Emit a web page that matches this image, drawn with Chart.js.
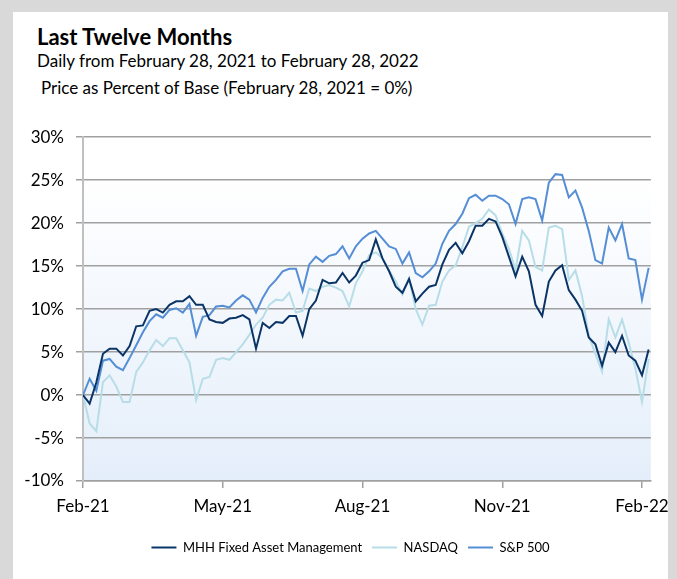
<!DOCTYPE html>
<html>
<head>
<meta charset="utf-8">
<script src="https://cdn.jsdelivr.net/npm/chart.js@4"></script>
<style>
  body { margin: 0; background: #d9d9d9; width: 677px; height: 579px; overflow: hidden; font-family: Lato, sans-serif; }
  #panel { position: absolute; left: 13px; top: 12px; width: 655px; height: 567px; background: #fff; }
  .txt { position: absolute; color: #000; white-space: nowrap; }
  #title { left: 37px; top: 24px; font-size: 22px; line-height: 26px; font-weight: bold; }
  #sub1 { left: 37px; top: 50px; font-size: 17px; line-height: 21px; }
  #sub2 { left: 41px; top: 77px; font-size: 17px; line-height: 21px; }
  #wrap { position: absolute; left: 13px; top: 115px; width: 664px; height: 464px; }
</style>
</head>
<body>
<div id="panel"></div>
<div id="title" class="txt">Last Twelve Months</div>
<div id="sub1" class="txt">Daily from February 28, 2021 to February 28, 2022</div>
<div id="sub2" class="txt">Price as Percent of Base (February 28, 2021 = 0%)</div>
<div id="wrap"><canvas id="chart"></canvas></div>
<script>
// trading-day index (every 3rd trading day)
const days = [0, 3, 6, 9, 12, 15, 18, 21, 24, 27, 30, 33, 36, 39, 42, 45, 48, 51, 54, 57,
  60, 63, 66, 69, 72, 75, 78, 81, 84, 87, 90, 93, 96, 99, 102, 105, 108, 111, 114, 117,
  120, 123, 126, 129, 132, 135, 138, 141, 144, 147, 150, 153, 156, 159, 162, 165, 168, 171, 174, 177,
  180, 183, 186, 189, 192, 195, 198, 201, 204, 207, 210, 213, 216, 219, 222, 225, 228, 231, 234, 237,
  240, 243, 246, 249, 252, 255];

const mhh = [0.0, -1.0, 1.45, 4.8, 5.4, 5.4, 4.6, 5.7, 8.0, 8.1,
  9.8, 10.0, 9.6, 10.5, 10.9, 10.9, 11.5, 10.5, 10.5, 8.8,
  8.5, 8.4, 8.9, 9.0, 9.3, 8.8, 5.4, 8.4, 7.8, 8.5,
  8.4, 9.2, 9.2, 6.9, 10.0, 11.0, 13.4, 13.0, 13.1, 14.2,
  13.1, 13.9, 15.4, 15.7, 18.1, 15.9, 14.4, 12.6, 11.9, 13.5,
  10.9, 11.8, 12.6, 12.8, 15.2, 16.9, 17.7, 16.5, 17.9, 19.7,
  19.7, 20.5, 20.2, 18.4, 16.1, 13.8, 16.1, 14.4, 10.5, 9.2,
  13.2, 14.5, 15.1, 12.2, 11.1, 9.8, 6.7, 5.9, 3.4, 6.1,
  5.0, 6.9, 4.6, 4.0, 2.3, 5.3];

const nasdaq = [0.0, -3.3, -4.2, 1.5, 2.3, 1.0, -0.8, -0.8, 2.7, 3.8,
  5.2, 6.4, 5.7, 6.6, 6.6, 5.2, 3.8, -0.6, 1.9, 2.1,
  4.1, 4.3, 4.1, 5.0, 5.9, 7.0, 8.2, 9.0, 10.5, 11.1,
  11.0, 11.9, 9.6, 9.8, 12.4, 12.1, 12.6, 12.8, 12.5, 12.1,
  10.3, 13.0, 14.4, 16.3, 16.6, 15.9, 14.5, 13.2, 11.7, 13.6,
  10.0, 8.2, 10.4, 10.5, 13.2, 14.5, 15.1, 17.2, 19.6, 20.0,
  20.5, 21.6, 20.9, 18.8, 17.0, 14.6, 19.1, 18.0, 14.9, 14.5,
  19.5, 19.7, 19.3, 13.4, 14.5, 11.5, 6.9, 4.8, 2.7, 8.8,
  6.7, 8.8, 6.1, 3.1, -0.8, 4.2];

const sp500 = [0.0, 1.9, 0.5, 4.0, 4.2, 3.3, 2.9, 4.3, 5.8, 7.3,
  8.6, 9.4, 9.0, 9.9, 10.1, 9.6, 10.6, 6.9, 9.1, 9.3,
  10.3, 10.4, 10.2, 11.0, 11.6, 11.1, 9.6, 11.3, 12.6, 13.4,
  14.4, 14.7, 14.7, 12.1, 15.2, 16.1, 15.5, 16.2, 16.4, 17.3,
  15.9, 17.3, 18.2, 18.8, 19.1, 18.2, 17.3, 17.0, 15.3, 16.6,
  14.2, 13.7, 14.4, 15.3, 17.6, 19.1, 19.9, 21.1, 22.9, 23.3,
  22.6, 23.2, 23.2, 22.8, 22.2, 19.9, 22.8, 23.0, 22.8, 20.3,
  24.7, 25.7, 25.6, 23.0, 23.8, 21.8, 19.1, 15.7, 15.3, 19.5,
  18.0, 19.9, 15.9, 15.7, 11.1, 14.8];

const tickDays = [0, 63, 126, 189, 252];
const tickLabels = ['Feb-21', 'May-21', 'Aug-21', 'Nov-21', 'Feb-22'];

const toPoints = (vals) => vals.map((v, i) => ({ x: days[i], y: v }));

const gridColor = '#a0a0a0';

// plot area gradient (white at top to pale blue at bottom)
const plotBackground = {
  id: 'plotBackground',
  beforeDraw(chart) {
    const { ctx, chartArea: a } = chart;
    const g = ctx.createLinearGradient(0, a.top, 0, a.bottom);
    g.addColorStop(0, '#ffffff');
    g.addColorStop(0.12, '#ffffff');
    g.addColorStop(1, '#e4eefa');
    ctx.save();
    ctx.fillStyle = g;
    ctx.fillRect(a.left, a.top, a.right - a.left, a.bottom - a.top);
    ctx.restore();
  }
};

// legend in the original sits a bit right of the canvas centre
const legendShift = {
  id: 'legendShift',
  afterLayout(chart) {
    chart.legend.left += 15;
    chart.legend.right += 15;
  }
};

new Chart(document.getElementById('chart'), {
  type: 'line',
  data: {
    datasets: [
      { label: 'MHH Fixed Asset Management', data: toPoints(mhh), borderColor: '#0b3466', borderWidth: 2 },
      { label: 'NASDAQ', data: toPoints(nasdaq), borderColor: '#b7dde8', borderWidth: 2 },
      { label: 'S&P 500', data: toPoints(sp500), borderColor: '#558ed5', borderWidth: 2 }
    ]
  },
  options: {
    responsive: true,
    maintainAspectRatio: false,
    animation: false,
    elements: { point: { radius: 0 }, line: { tension: 0 } },
    layout: { padding: { top: 17, right: 19, bottom: 15, left: 0 } },
    scales: {
      x: {
        type: 'linear',
        min: 0,
        max: 256,
        afterBuildTicks: (scale) => { scale.ticks = tickDays.map(v => ({ value: v })); },
        afterFit: (scale) => { scale.height = 50; },
        grid: { drawOnChartArea: false, drawTicks: true, tickLength: 7, color: gridColor, lineWidth: 1.5 },
        border: { color: gridColor, width: 1.5 },
        ticks: {
          autoSkip: false,
          maxRotation: 0,
          padding: 8,
          color: '#000',
          font: { family: 'Lato', size: 17 },
          callback: (value) => tickLabels[tickDays.indexOf(value)]
        }
      },
      y: {
        min: -10,
        max: 30,
        afterFit: (scale) => { scale.width = 70; },
        grid: { color: gridColor, lineWidth: 1.5, tickLength: 7 },
        border: { color: '#c0c0c0', width: 2 },
        ticks: {
          stepSize: 5,
          padding: 12,
          color: '#000',
          font: { family: 'Lato', size: 17 },
          callback: (value) => value + '%'
        }
      }
    },
    plugins: {
      legend: {
        position: 'bottom',
        labels: {
          usePointStyle: true,
          pointStyle: 'line',
          pointStyleWidth: 25,
          padding: 10,
          color: '#000',
          font: { family: 'Lato', size: 13 }
        }
      },
      tooltip: { enabled: false }
    }
  },
  plugins: [plotBackground, legendShift]
});
</script>
</body>
</html>
